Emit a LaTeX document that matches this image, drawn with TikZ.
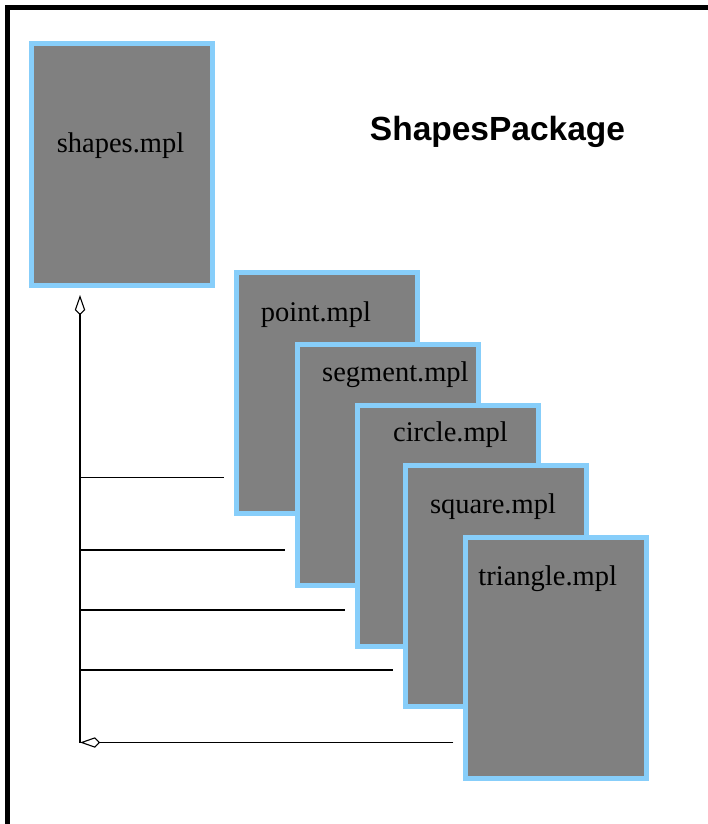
\documentclass[tikz,border=0pt]{standalone}
\usepackage{fontspec}
\setmainfont{Liberation Serif}
\newfontfamily\headfont{Liberation Sans}
\usetikzlibrary{arrows.meta}
\definecolor{mplblue}{RGB}{135,206,250}
\tikzset{
  mpl/.style={draw=mplblue,line width=5pt,fill=gray,minimum width=181pt,minimum height=241pt,inner sep=0pt},
  mpltxt/.style={anchor=base,inner sep=0pt,font=\fontsize{28.5}{34}\selectfont},
  inherit/.style={-{Kite[open,length=20pt,width=10.5pt,inset=5pt]},line width=1.1pt}
}

\begin{document}
\begin{tikzpicture}[x=1pt,y=-1pt]
\useasboundingbox (0,0) rectangle (708,824);
\draw[line width=5pt] (7.5,840) |- (720,7.5);
\node[mpl] (shapes) at (122.25,164.5) {};
\node[mpltxt] (shapes-t) at (120.5,153) {shapes.mpl};
\node[anchor=base,inner sep=0pt,font=\headfont\bfseries\fontsize{33.5}{40}\selectfont] (title) at (497.5,140) {ShapesPackage};
% the five files of the package
\foreach \n/\x/\y/\tx/\ty in {point/327/393/316/321.7,segment/387.5/465.25/395.4/381.7,circle/447.75/525.5/450.5/441.7,square/495.8/585.5/493/513.3,triangle/556/658/547.7/585.7}
  {\node[mpl] (\n) at (\x,\y) {}; \node[mpltxt] (\n-t) at (\tx,\ty) {\n.mpl};}
\coordinate (bus) at (80,742.5);
\draw[inherit,shorten >=7.5pt] (bus) -- (shapes.south -| bus);
\draw[inherit] ([xshift=-9.7pt]triangle.west |- bus) -- (bus);
\foreach \n/\y in {point/477.3,segment/550,circle/610,square/670}
  {\coordinate (b-\n) at (80,\y); \draw[line width=1.1pt] (b-\n) -- ([xshift=-9.7pt]\n.west |- b-\n);}
\end{tikzpicture}
\end{document}
